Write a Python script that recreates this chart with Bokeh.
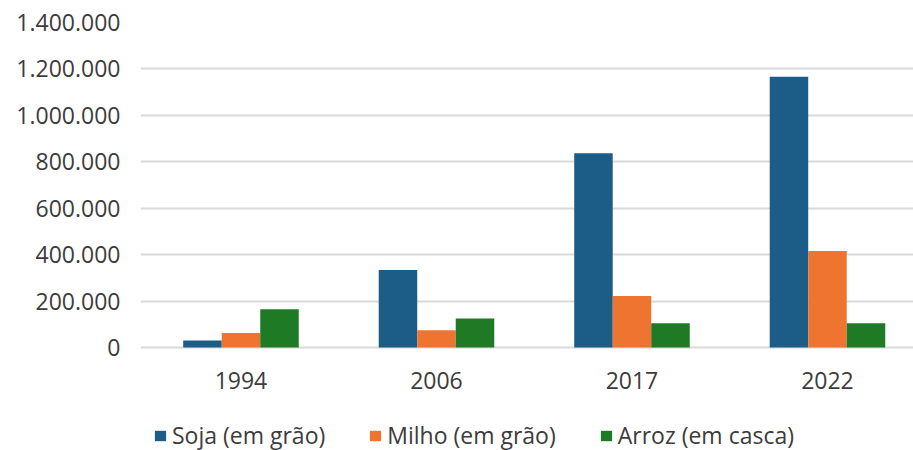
from bokeh.plotting import figure
from bokeh.models import (ColumnDataSource, Range1d, FixedTicker, Legend, LegendItem)
from bokeh.transform import dodge
from bokeh.embed import file_html
from bokeh.resources import INLINE

years = ["1994", "2006", "2017", "2022"]
soja = [30000, 334000, 837000, 1166000]
milho = [63000, 74000, 222000, 416000]
arroz = [165000, 125000, 105000, 105000]
series = ["Soja (em grão)", "Milho (em grão)", "Arroz (em casca)"]
colors = ["#1b5d87", "#ee7430", "#1f7a26"]
y_ticks = [0, 200000, 400000, 600000, 800000, 1000000, 1200000, 1400000]
y_labels = ["0", "200.000", "400.000", "600.000", "800.000", "1.000.000", "1.200.000", "1.400.000"]

idx = list(range(len(years)))
src = ColumnDataSource(dict(x=idx, soja=soja, milho=milho, arroz=arroz))

# frame spans from the top gridline down to the canvas bottom; the value axis
# starts below zero so that the legend area sits inside the frame
H, top_px, zero_px = 450, 22, 347
y_max = 1400000
y_min = -(H - zero_px) * y_max / (zero_px - top_px)

p = figure(width=913, height=H, output_backend="svg", toolbar_location=None,
           x_range=Range1d(-0.514, 3.44), y_range=Range1d(y_min, y_max),
           min_border_left=140, min_border_right=0, min_border_top=top_px, min_border_bottom=0)
p.outline_line_color = None
p.background_fill_color = "white"
p.border_fill_color = "white"

bw = 0.197
rs = []
for key, off, col in zip(["soja", "milho", "arroz"], [-bw, 0, bw], colors):
    r = p.vbar(x=dodge("x", off, range=p.x_range), top=key, bottom=0, width=bw, source=src,
               fill_color=col, line_color=None)
    rs.append(r)

text_col = "#3c3c3c"
font = "Open Sans"

p.xaxis.ticker = FixedTicker(ticks=idx)
p.xaxis.major_label_overrides = {i: y for i, y in zip(idx, years)}
p.xaxis.fixed_location = 0
p.yaxis.ticker = FixedTicker(ticks=y_ticks)
p.yaxis.major_label_overrides = {t: l for t, l in zip(y_ticks, y_labels)}
for ax in (p.xaxis, p.yaxis):
    ax.axis_line_color = None
    ax.major_tick_line_color = None
    ax.minor_tick_line_color = None
    ax.major_tick_out = 0
    ax.major_tick_in = 0
    ax.major_label_text_font = font
    ax.major_label_text_font_size = "23px"
    ax.major_label_text_color = text_col
    ax.major_label_standoff = 20
p.xaxis.major_label_standoff = 24

p.xgrid.visible = False
p.ygrid.ticker = FixedTicker(ticks=y_ticks)
p.ygrid.grid_line_color = "#d9d9d9"
p.ygrid.grid_line_width = 2

legend = Legend(items=[LegendItem(label=s, renderers=[r]) for s, r in zip(series, rs)],
                orientation="horizontal", location=(13, -1),
                glyph_width=14, glyph_height=13, label_standoff=5, spacing=43,
                padding=0, margin=0, border_line_color=None, background_fill_alpha=0,
                label_text_font=font, label_text_font_size="23px", label_text_color=text_col)
p.add_layout(legend)

open("out.html", "w").write(file_html(p, INLINE))
